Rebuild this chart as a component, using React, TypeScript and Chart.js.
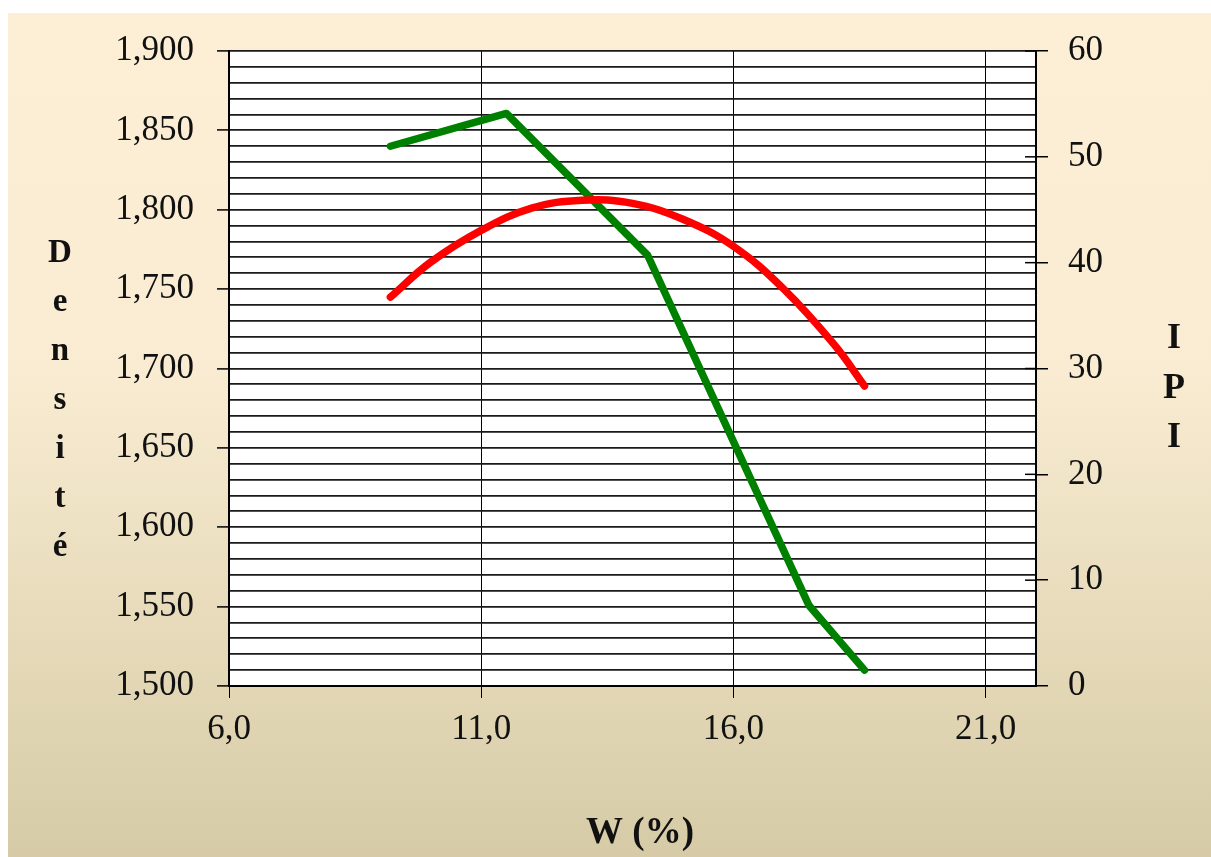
import React, { useEffect, useRef } from "react";
import { Chart, registerables } from "chart.js";

Chart.register(...registerables);

// ---- data ----
const W_IPI = [9.2, 11.5, 14.3, 17.5, 18.6];
const IPI = [51.0, 54.1, 40.7, 7.6, 1.5];

const W_DENS = [9.2, 10.0, 11.0, 12.0, 13.0, 14.0, 15.0, 16.0, 17.0, 18.0, 18.6];
const DENSITE = [1.745, 1.767, 1.787, 1.801, 1.806, 1.804, 1.794, 1.777, 1.75, 1.715, 1.689];

const X_TICKS = [6, 11, 16, 21];
const X_MIN = 6;
const X_MAX = 22;
const DENS_MIN = 1.5;
const DENS_MAX = 1.9;
const DENS_GRID_STEP = 0.01;
const DENS_LABEL_STEP = 0.05;
const IPI_MIN = 0;
const IPI_MAX = 60;
const IPI_STEP = 10;

const X_TITLE = "W (%)";
const Y_TITLE = "Densité";
const Y2_TITLE = "IPI";

const SERIF = "'Liberation Serif', 'Times New Roman', serif";

const isLabeled = (v: number) => {
  const r = v / DENS_LABEL_STEP;
  return Math.abs(r - Math.round(r)) < 1e-6;
};

const decor = {
  id: "decor",
  beforeDraw(chart: any) {
    const { ctx, chartArea: a, width, height } = chart;
    ctx.save();
    ctx.fillStyle = "#ffffff";
    ctx.fillRect(0, 0, width, height);
    const g = ctx.createLinearGradient(0, 13, 0, height);
    g.addColorStop(0, "#FCEFD5");
    g.addColorStop(0.42, "#F9ECD2");
    g.addColorStop(1, "#D6CBA6");
    ctx.fillStyle = g;
    ctx.fillRect(8, 13, width - 8, height - 13);
    ctx.fillStyle = "#ffffff";
    ctx.fillRect(a.left, a.top, a.right - a.left, a.bottom - a.top);
    ctx.restore();
  },
  afterDraw(chart: any) {
    const { ctx, chartArea: a } = chart;
    const y2 = chart.scales.y2;
    ctx.save();
    // inner half of the crossing ticks on the right axis
    ctx.strokeStyle = "#000";
    ctx.lineWidth = 1.5;
    y2.ticks.forEach((t: any) => {
      const py = y2.getPixelForValue(t.value);
      ctx.beginPath();
      ctx.moveTo(a.right - 11, py);
      ctx.lineTo(a.right, py);
      ctx.stroke();
    });

    ctx.fillStyle = "#111";
    ctx.textAlign = "center";
    ctx.textBaseline = "alphabetic";
    // left title, stacked letters
    ctx.font = `bold 33px ${SERIF}`;
    Array.from(Y_TITLE).forEach((ch, i) => {
      ctx.fillText(ch, 60, 262 + i * 49);
    });
    // right title, stacked letters
    ctx.font = `bold 36px ${SERIF}`;
    Array.from(Y2_TITLE).forEach((ch, i) => {
      ctx.fillText(ch, 1174, 348 + i * 49.5);
    });
    // x title
    ctx.font = `bold 37px ${SERIF}`;
    ctx.fillText(X_TITLE, 640, 843);
    ctx.restore();
  },
};

export default function App() {
  const ref = useRef<HTMLCanvasElement | null>(null);

  useEffect(() => {
    if (!ref.current) return;
    const tickFont = { family: SERIF, size: 35 };
    const chart = new Chart(ref.current, {
      type: "line",
      data: {
        datasets: [
          {
            label: Y_TITLE,
            data: W_DENS.map((x, i) => ({ x, y: DENSITE[i] })),
            xAxisID: "x",
            yAxisID: "y",
            borderColor: "#FF0000",
            backgroundColor: "#FF0000",
            borderWidth: 7.5,
            pointRadius: 0,
            tension: 0.4,
            fill: false,
            borderCapStyle: "round",
            borderJoinStyle: "round",
          },
          {
            label: Y2_TITLE,
            data: W_IPI.map((x, i) => ({ x, y: IPI[i] })),
            xAxisID: "x",
            yAxisID: "y2",
            borderColor: "#008000",
            backgroundColor: "#008000",
            borderWidth: 7.5,
            pointRadius: 0,
            tension: 0,
            fill: false,
            borderCapStyle: "round",
            borderJoinStyle: "round",
          },
        ],
      },
      options: {
        animation: false,
        responsive: false,
        layout: { padding: { top: 51, left: 0, right: 0, bottom: 0 } },
        plugins: {
          legend: { display: false },
          tooltip: { enabled: false },
        },
        scales: {
          x: {
            type: "linear",
            position: "bottom",
            min: X_MIN,
            max: X_MAX,
            afterBuildTicks: (s: any) => {
              s.ticks = X_TICKS.map((v) => ({ value: v }));
            },
            afterFit: (s: any) => {
              s.height = 171;
            },
            ticks: {
              autoSkip: false,
              maxRotation: 0,
              padding: 11,
              color: "#111",
              font: tickFont,
              callback: (v: any) => Number(v).toFixed(1).replace(".", ","),
            },
            grid: { color: "#000", lineWidth: 1, tickLength: 12, drawTicks: true },
            border: { color: "#000", width: 2 },
          },
          y: {
            type: "linear",
            position: "left",
            min: DENS_MIN,
            max: DENS_MAX,
            afterFit: (s: any) => {
              s.width = 229;
            },
            ticks: {
              stepSize: DENS_GRID_STEP,
              autoSkip: false,
              maxTicksLimit: 100,
              padding: 23,
              color: "#111",
              font: tickFont,
              callback: (v: any) =>
                isLabeled(Number(v)) ? Number(v).toFixed(3).replace(".", ",") : "",
            },
            grid: {
              color: "#1a1a1a",
              lineWidth: 1.8,
              tickLength: 12,
              tickWidth: 1.5,
              tickColor: (c: any) =>
                c.tick && isLabeled(c.tick.value) ? "#000" : "rgba(0,0,0,0)",
            },
            border: { color: "#000", width: 2 },
          },
          y2: {
            type: "linear",
            position: "right",
            min: IPI_MIN,
            max: IPI_MAX,
            afterFit: (s: any) => {
              s.width = 175;
            },
            ticks: {
              stepSize: IPI_STEP,
              autoSkip: false,
              padding: 20,
              color: "#111",
              font: tickFont,
            },
            grid: {
              drawOnChartArea: false,
              color: "#000",
              lineWidth: 1.5,
              tickLength: 12,
            },
            border: { color: "#000", width: 2 },
          },
        },
      },
      plugins: [decor],
    } as any);
    return () => chart.destroy();
  }, []);

  return (
    <div
      style={{
        position: "absolute",
        left: 0,
        top: 0,
        width: 1211,
        height: 857,
        background: "#fff",
      }}
    >
      <canvas ref={ref} width={1211} height={857} style={{ display: "block" }} />
    </div>
  );
}
